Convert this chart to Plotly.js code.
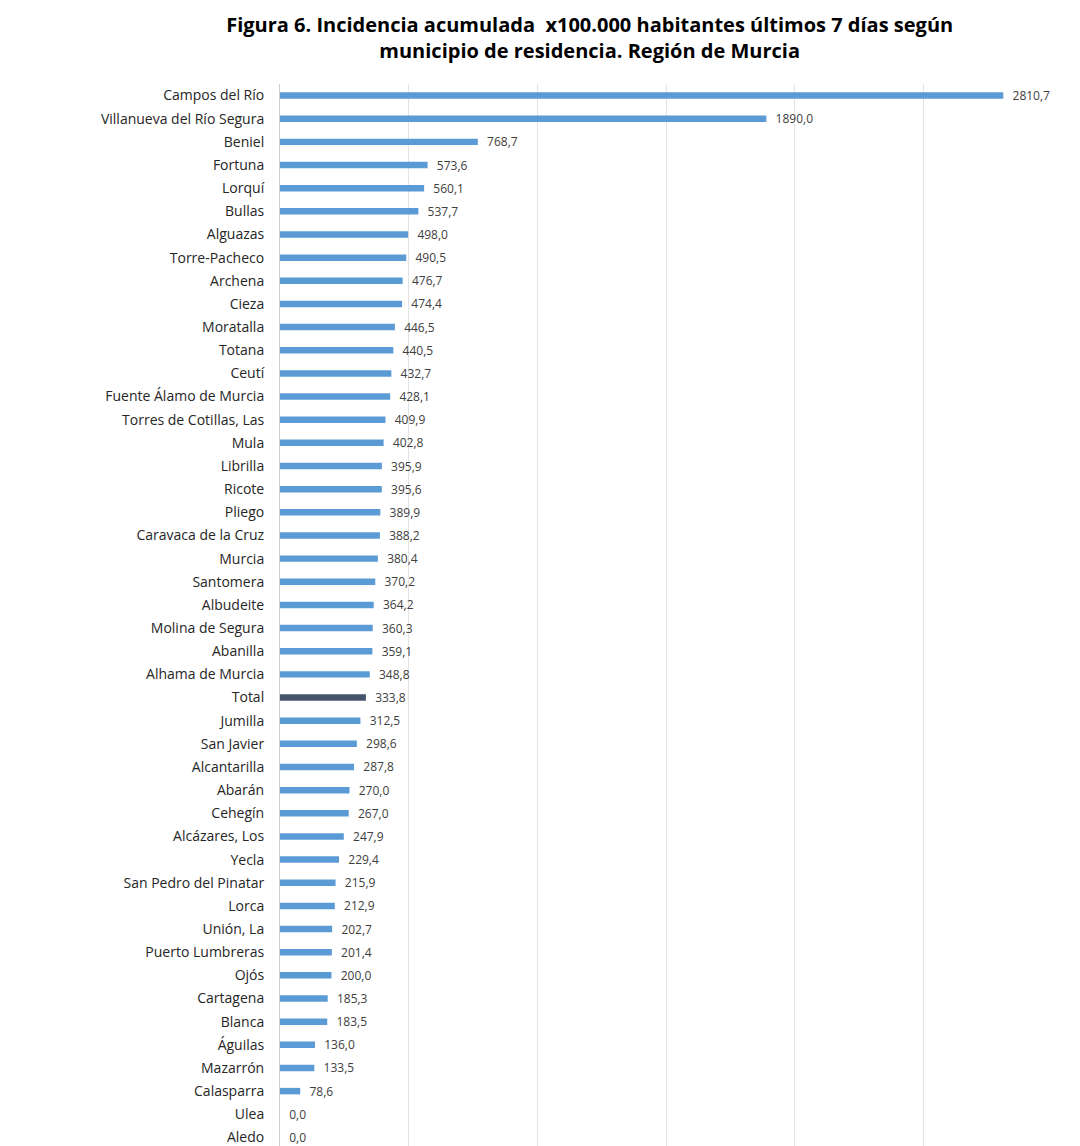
<!DOCTYPE html>
<html>
<head>
<meta charset="utf-8">
<script src="https://cdn.plot.ly/plotly-3.0.1.min.js"></script>
<style>
html,body{margin:0;padding:0;background:#fff;overflow:hidden;}
#chart{width:1080px;height:1170px;}
</style>
</head>
<body>
<div id="chart"></div>
<script>
const municipios = [
  "Campos del Río","Villanueva del Río Segura","Beniel","Fortuna","Lorquí","Bullas",
  "Alguazas","Torre-Pacheco","Archena","Cieza","Moratalla","Totana","Ceutí",
  "Fuente Álamo de Murcia","Torres de Cotillas, Las","Mula","Librilla","Ricote",
  "Pliego","Caravaca de la Cruz","Murcia","Santomera","Albudeite","Molina de Segura",
  "Abanilla","Alhama de Murcia","Total","Jumilla","San Javier","Alcantarilla","Abarán",
  "Cehegín","Alcázares, Los","Yecla","San Pedro del Pinatar","Lorca","Unión, La",
  "Puerto Lumbreras","Ojós","Cartagena","Blanca","Águilas","Mazarrón","Calasparra",
  "Ulea","Aledo"
];
const incidencia = [
  2810.7,1890.0,768.7,573.6,560.1,537.7,
  498.0,490.5,476.7,474.4,446.5,440.5,432.7,
  428.1,409.9,402.8,395.9,395.6,
  389.9,388.2,380.4,370.2,364.2,360.3,
  359.1,348.8,333.8,312.5,298.6,287.8,270.0,
  267.0,247.9,229.4,215.9,212.9,202.7,
  201.4,200.0,185.3,183.5,136.0,133.5,78.6,
  0.0,0.0
];
const totalLabel = "Total";
const colorMunicipio = "#5B9BD5";
const colorTotal = "#44546A";

const fontFam = "'Open Sans', 'Liberation Sans', sans-serif";
const labels = incidencia.map(v => "\u00a0\u00a0" + v.toFixed(1).replace('.', ','));
const colors = municipios.map(m => m === totalLabel ? colorTotal : colorMunicipio);

const trace = {
  type: 'bar',
  orientation: 'h',
  y: municipios,
  x: incidencia,
  marker: {color: colors},
  text: labels,
  textposition: 'outside',
  cliponaxis: false,
  constraintext: 'none',
  textfont: {family: fontFam, size: 12, color: '#404040'},
  hoverinfo: 'x+y'
};

const layout = {
  width: 1080,
  height: 1170,
  margin: {l: 280, r: 28, t: 84, b: 21},
  paper_bgcolor: '#ffffff',
  plot_bgcolor: '#ffffff',
  bargap: 0.72,
  showlegend: false,
  title: {
    text: '<b>Figura 6. Incidencia acumulada  x100.000 habitantes últimos 7 días según<br>municipio de residencia. Región de Murcia</b>',
    x: 0.546, xanchor: 'center',
    y: 0.973, yanchor: 'top',
    font: {family: fontFam, size: 20, color: '#000000'}
  },
  xaxis: {
    range: [0, 3000],
    dtick: 500,
    showgrid: true,
    gridcolor: '#e3e3e3',
    gridwidth: 1,
    zeroline: false,
    showticklabels: false,
    ticks: '',
    fixedrange: true
  },
  yaxis: {
    type: 'category',
    autorange: 'reversed',
    showline: true,
    linecolor: '#cfcfcf',
    linewidth: 1,
    showgrid: false,
    ticks: '',
    ticklabelstandoff: 12,
    tickfont: {family: fontFam, size: 14, color: '#262626'},
    fixedrange: true
  }
};

Plotly.newPlot('chart', [trace], layout, {displayModeBar: false, staticPlot: true});
</script>
</body>
</html>
